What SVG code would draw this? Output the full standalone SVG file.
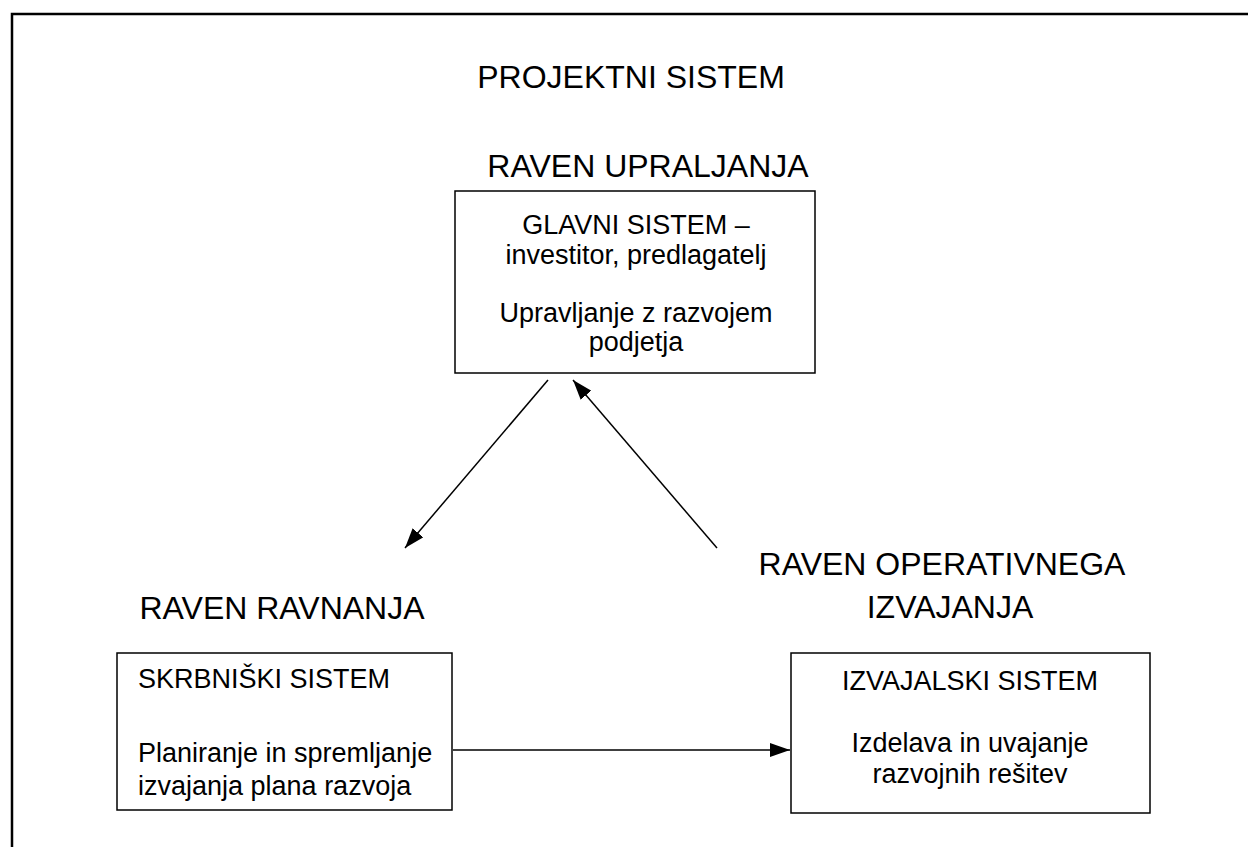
<svg xmlns="http://www.w3.org/2000/svg" width="1248" height="847" viewBox="0 0 1248 847">
<style>
text{font-family:"Liberation Sans",Arial,sans-serif;fill:#000}
.h{font-size:32px}
.b{font-size:27px}
.box{fill:#fff;stroke:#000;stroke-width:1.5}
.c{stroke:#000;stroke-width:1.5;fill:none}
</style>
<defs>
<marker id="ah" viewBox="0 0 20 14" refX="20" refY="7" markerWidth="20" markerHeight="14" markerUnits="userSpaceOnUse" orient="auto">
<path d="M0,0 L20,7 L0,14 z" fill="#000"/>
</marker>
</defs>
<rect width="1248" height="847" fill="#fff"/>
<path d="M12,847 V14 H1248" fill="none" stroke="#000" stroke-width="2.5"/>
<g id="titles">
<text class="h" x="631" y="88" text-anchor="middle">PROJEKTNI SISTEM</text>
<text class="h" x="648" y="177" text-anchor="middle">RAVEN UPRALJANJA</text>
<text class="h" x="282" y="619" text-anchor="middle">RAVEN RAVNANJA</text>
<text class="h" x="942" y="575" text-anchor="middle">RAVEN OPERATIVNEGA</text>
<text class="h" x="950" y="618" text-anchor="middle">IZVAJANJA</text>
</g>
<g id="glavni">
<rect class="box" x="455" y="191" width="360" height="182"/>
<text class="b" x="636" y="234" text-anchor="middle">GLAVNI SISTEM –</text>
<text class="b" x="636" y="264" text-anchor="middle">investitor, predlagatelj</text>
<text class="b" x="636" y="322" text-anchor="middle">Upravljanje z razvojem</text>
<text class="b" x="636" y="351" text-anchor="middle">podjetja</text>
</g>
<g id="skrbniski">
<rect class="box" x="117" y="653" width="335" height="157"/>
<text class="b" x="138" y="688">SKRBNIŠKI SISTEM</text>
<text class="b" x="138" y="762">Planiranje in spremljanje</text>
<text class="b" x="138" y="795">izvajanja plana razvoja</text>
</g>
<g id="izvajalski">
<rect class="box" x="791" y="653" width="359" height="160"/>
<text class="b" x="970" y="690" text-anchor="middle">IZVAJALSKI SISTEM</text>
<text class="b" x="970" y="752" text-anchor="middle">Izdelava in uvajanje</text>
<text class="b" x="970" y="783" text-anchor="middle">razvojnih rešitev</text>
</g>
<g id="connectors">
<line class="c" x1="548" y1="380" x2="405" y2="548" marker-end="url(#ah)"/>
<line class="c" x1="717" y1="548" x2="573" y2="380" marker-end="url(#ah)"/>
<line class="c" x1="453" y1="750" x2="790" y2="750" marker-end="url(#ah)"/>
</g>
</svg>
